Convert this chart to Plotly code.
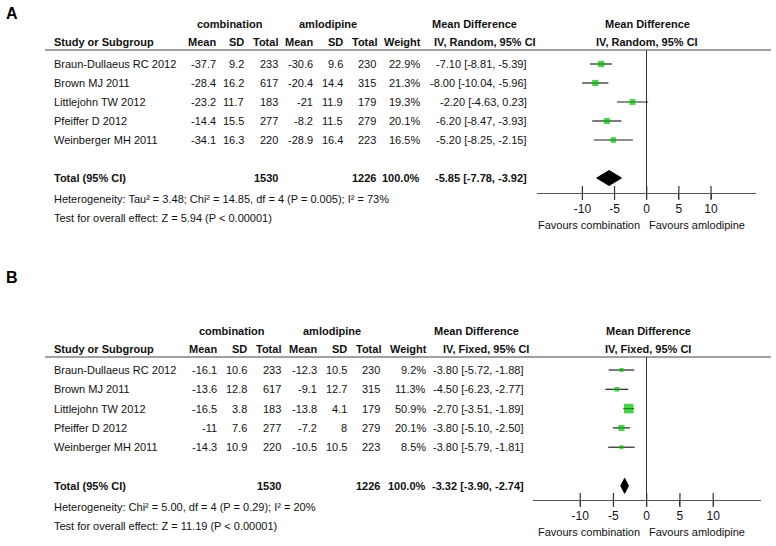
import plotly.graph_objects as go

W, H = 776, 546
FONT = "Liberation Sans, Arial, sans-serif"
FS = 11
GREEN = "#00c000"

# ---------------- data: panel A (random effects) ----------------
studies = ["Braun-Dullaeus RC 2012", "Brown MJ 2011", "Littlejohn TW 2012",
           "Pfeiffer D 2012", "Weinberger MH 2011"]
a_mean1 = [-37.7, -28.4, -23.2, -14.4, -34.1]
a_sd1 = [9.2, 16.2, 11.7, 15.5, 16.3]
a_n1 = [233, 617, 183, 277, 220]
a_mean2 = [-30.6, -20.4, -21, -8.2, -28.9]
a_sd2 = [9.6, 14.4, 11.9, 11.5, 16.4]
a_n2 = [230, 315, 179, 279, 223]
a_weight = [22.9, 21.3, 19.3, 20.1, 16.5]
a_md = [-7.10, -8.00, -2.20, -6.20, -5.20]
a_lo = [-8.81, -10.04, -4.63, -8.47, -8.25]
a_hi = [-5.39, -5.96, 0.23, -3.93, -2.15]
a_total = {"n1": 1530, "n2": 1226, "w": 100.0, "md": -5.85, "lo": -7.78, "hi": -3.92}
a_het = "Heterogeneity: Tau² = 3.48; Chi² = 14.85, df = 4 (P = 0.005); I² = 73%"
a_test = "Test for overall effect: Z = 5.94 (P < 0.00001)"

# ---------------- data: panel B (fixed effects) ----------------
b_mean1 = [-16.1, -13.6, -16.5, -11, -14.3]
b_sd1 = [10.6, 12.8, 3.8, 7.6, 10.9]
b_n1 = [233, 617, 183, 277, 220]
b_mean2 = [-12.3, -9.1, -13.8, -7.2, -10.5]
b_sd2 = [10.5, 12.7, 4.1, 8, 10.5]
b_n2 = [230, 315, 179, 279, 223]
b_weight = [9.2, 11.3, 50.9, 20.1, 8.5]
b_md = [-3.80, -4.50, -2.70, -3.80, -3.80]
b_lo = [-5.72, -6.23, -3.51, -5.10, -5.79]
b_hi = [-1.88, -2.77, -1.89, -2.50, -1.81]
b_total = {"n1": 1530, "n2": 1226, "w": 100.0, "md": -3.32, "lo": -3.90, "hi": -2.74}
b_het = "Heterogeneity: Chi² = 5.00, df = 4 (P = 0.29); I² = 20%"
b_test = "Test for overall effect: Z = 11.19 (P < 0.00001)"

tick_vals = [-10, -5, 0, 5, 10]
tick_text = ["-10", "-5", "0", "5", "10"]


def px(x):
    return x / W


def py(y):
    return 1 - y / H


fig = go.Figure()
ann = []
shapes = []


def panel(letter, xa, ya, y0, step, top_line, axis_y, xl, xr, zero_x, scale,
          cols, data, total, het, test, method, grp_c, md_c, right_c):
    (mean1, sd1, n1, mean2, sd2, n2, weight, md, lo, hi) = data
    xaxis_name = "xaxis" if xa == "x" else "xaxis" + xa[1:]
    yaxis_name = "yaxis" if ya == "y" else "yaxis" + ya[1:]
    r_top = (top_line - y0) / step
    r_bot = (axis_y - y0) / step
    fig.layout[xaxis_name] = dict(
        domain=[px(xl), px(xr)],
        range=[(xl - zero_x) / scale, (xr - zero_x) / scale],
        anchor=ya, showgrid=False, zeroline=True, zerolinecolor="#333",
        zerolinewidth=1, showline=True, linecolor="#555", linewidth=1,
        tickvals=tick_vals, ticktext=tick_text, ticks="outside", ticklen=5,
        tickcolor="#333",
        tickfont=dict(family=FONT, size=12, color="#111"), fixedrange=True)
    fig.layout[yaxis_name] = dict(
        domain=[py(axis_y), py(top_line)], range=[r_bot, r_top],
        anchor=xa, visible=False, fixedrange=True)

    rows = list(range(len(studies)))
    # CI lines
    for i in rows:
        fig.add_trace(go.Scatter(x=[lo[i], hi[i]], y=[i, i], mode="lines",
                                 line=dict(color="#222", width=1.2),
                                 xaxis=xa, yaxis=ya, showlegend=False,
                                 hoverinfo="skip"))
    # squares
    fig.add_trace(go.Scatter(
        x=md, y=rows, mode="markers", xaxis=xa, yaxis=ya, showlegend=False,
        marker=dict(symbol="square", color=GREEN,
                    size=[1.35 * (w ** 0.5) for w in weight],
                    line=dict(width=0))))
    # diamond
    tr = len(studies) + 1
    h = 7.5 / step
    fig.add_trace(go.Scatter(
        x=[total["lo"], total["md"], total["hi"], total["md"], total["lo"]],
        y=[tr, tr - h, tr, tr + h, tr], mode="lines", fill="toself",
        fillcolor="black", line=dict(color="black", width=1),
        xaxis=xa, yaxis=ya, showlegend=False, hoverinfo="skip"))
    # tick crossing marks (ticks extend above axis too)
    fig.add_trace(go.Scatter(
        x=tick_vals, y=[r_bot] * len(tick_vals), mode="markers",
        marker=dict(symbol="line-ns", size=10, line=dict(width=1.2, color="#333")),
        xaxis=xa, yaxis=ya, showlegend=False, cliponaxis=False,
        hoverinfo="skip"))

    # header line
    shapes.append(dict(type="line", xref="paper", yref="paper",
                       x0=px(45), x1=px(771), y0=py(top_line), y1=py(top_line),
                       line=dict(color="#444", width=1.2)))

    def t(x, y, text, anchor="left", bold=False, size=FS, yref="paper"):
        ann.append(dict(x=px(x), y=(py(y) if yref == "paper" else y),
                        xref="paper", yref=yref,
                        text=("<b>%s</b>" % text) if bold else text,
                        showarrow=False, xanchor=anchor, yanchor="middle",
                        borderpad=0, borderwidth=0,
                        font=dict(family=FONT, size=size, color="#111")))

    # panel letter
    ann.append(dict(x=px(12), y=py(13 if letter == "A" else 277),
                    xref="paper", yref="paper", text="<b>%s</b>" % letter,
                    showarrow=False, xanchor="center", yanchor="middle",
                    font=dict(family=FONT, size=16, color="black")))

    gy = top_line - 26
    hy = top_line - 7.5
    t(grp_c[0], gy, "combination", "center", True)
    t(grp_c[1], gy, "amlodipine", "center", True)
    t(md_c, gy, "Mean Difference", "center", True)
    t(right_c, gy, "Mean Difference", "center", True)
    c = cols
    t(54, hy, "Study or Subgroup", "left", True)
    for key, lab in [("m1", "Mean"), ("s1", "SD"), ("n1", "Total"),
                     ("m2", "Mean"), ("s2", "SD"), ("n2", "Total"), ("w", "Weight")]:
        t(c[key] + (1 if key in ("n2", "w") else 0), hy, lab, "right", True)
    t(c["cil"], hy, "IV, %s, 95%% CI" % method, "left", True)
    t(right_c, hy, "IV, %s, 95%% CI" % method, "center", True)

    yr = ya
    for i in rows:
        t(54, i, studies[i], "left", yref=yr)
        t(c["m1"], i, "%g" % mean1[i], "right", yref=yr)
        t(c["s1"], i, "%g" % sd1[i], "right", yref=yr)
        t(c["n1"], i, "%d" % n1[i], "right", yref=yr)
        t(c["m2"], i, "%g" % mean2[i], "right", yref=yr)
        t(c["s2"], i, "%g" % sd2[i], "right", yref=yr)
        t(c["n2"], i, "%d" % n2[i], "right", yref=yr)
        t(c["w"], i, "%.1f%%" % weight[i], "right", yref=yr)
        t(c["ci"], i, "%.2f [%.2f, %.2f]" % (md[i], lo[i], hi[i]), "right", yref=yr)
    t(54, tr, "Total (95% CI)", "left", True, yref=yr)
    t(c["n1"], tr, "%d" % total["n1"], "right", True, yref=yr)
    t(c["n2"], tr, "%d" % total["n2"], "right", True, yref=yr)
    t(c["w"], tr, "%.1f%%" % total["w"], "right", True, yref=yr)
    t(c["ci"], tr, "%.2f [%.2f, %.2f]" % (total["md"], total["lo"], total["hi"]),
      "right", True, yref=yr)
    t(54, y0 + step * tr + 21, het, "left")
    t(54, y0 + step * tr + 40, test, "left")

    fy = axis_y + 32
    t(zero_x - 58, fy, "Favours combination", "center")
    t(zero_x + 50, fy, "Favours amlodipine", "center")


colsA = dict(m1=216, s1=244, n1=278, m2=313, s2=343, n2=376, w=420, ci=527, cil=434)
colsB = dict(m1=217, s1=247, n1=281, m2=317, s2=347, n2=380, w=426, ci=524, cil=443)

panel("A", "x", "y", 64, 19.0, 50, 193, 537, 756, 646.7, 6.43, colsA,
      (a_mean1, a_sd1, a_n1, a_mean2, a_sd2, a_n2, a_weight, a_md, a_lo, a_hi),
      a_total, a_het, a_test, "Random", (230, 328), 474, 647)
panel("B", "x2", "y2", 370, 19.3, 357, 500, 533, 761, 646.7, 6.65, colsB,
      (b_mean1, b_sd1, b_n1, b_mean2, b_sd2, b_n2, b_weight, b_md, b_lo, b_hi),
      b_total, b_het, b_test, "Fixed", (232, 332), 476, 648)

fig.update_layout(width=W, height=H, margin=dict(l=0, r=0, t=0, b=0),
                  paper_bgcolor="white", plot_bgcolor="white",
                  annotations=ann, shapes=shapes, showlegend=False)
fig.write_html("out.html", config={"displayModeBar": False},
               post_script="document.body.style.margin='0';"
                           "document.body.style.padding='0';")
